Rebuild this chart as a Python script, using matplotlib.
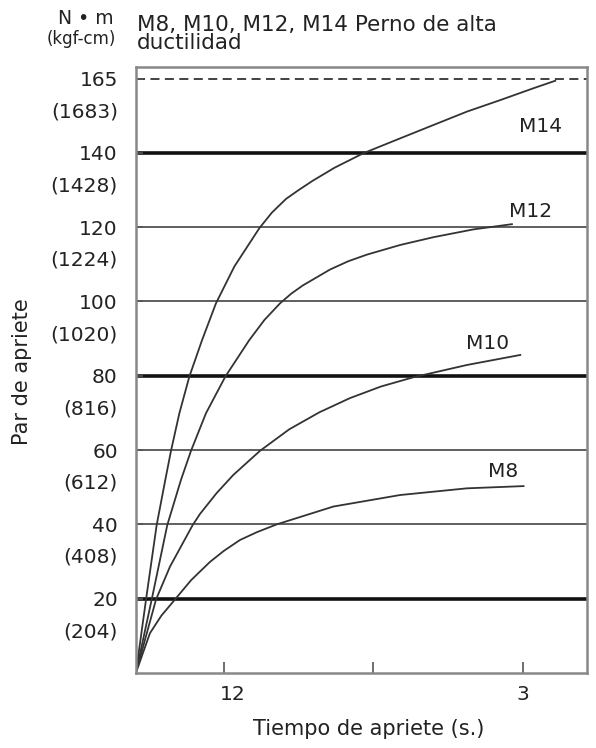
import matplotlib.pyplot as plt
import matplotlib.transforms as mtransforms

# (x: tick 1 = "12", tick 3 = "3"; left edge of the frame ~0.41)
m14_x = [0.41, 0.478, 0.549, 0.607, 0.645, 0.701, 0.768, 0.853, 0.946, 1.069, 1.236,
         1.32, 1.415, 1.5, 1.594, 1.74, 1.933, 2.179, 2.402, 2.626, 2.849, 3.072, 3.217]
m14_y = [0, 19.8, 39.8, 52.0, 59.8, 69.9, 79.8, 89.6, 99.5, 109.4, 119.7,
         123.9, 127.6, 130.0, 132.5, 136.0, 139.9, 143.9, 147.5, 151.1, 154.2, 157.4, 159.4]

m12_x = [0.41, 0.516, 0.62, 0.712, 0.779, 0.879, 1.009, 1.169, 1.27, 1.375, 1.45, 1.527,
         1.71, 1.83, 1.956, 2.179, 2.402, 2.67, 2.927]
m12_y = [0, 19.8, 39.8, 52.0, 59.8, 69.9, 79.8, 89.6, 95.0, 99.5, 102.1, 104.3,
         108.6, 110.8, 112.6, 115.2, 117.3, 119.4, 120.8]

m10_x = [0.41, 0.545, 0.638, 0.79, 0.839, 0.95, 1.062, 1.241, 1.437, 1.64, 1.844,
         2.05, 2.268, 2.626, 2.983]
m10_y = [0, 19.8, 28.6, 39.8, 42.8, 48.4, 53.3, 59.8, 65.6, 70.2, 74.0,
         77.1, 79.6, 82.9, 85.6]

m8_x = [0.41, 0.504, 0.58, 0.672, 0.78, 0.906, 1.0, 1.107, 1.22, 1.353, 1.732, 2.179, 2.626, 3.005]
m8_y = [0, 10.7, 15.4, 19.8, 25.0, 29.9, 32.9, 35.8, 37.9, 40.0, 44.8, 47.9, 49.7, 50.3]

curves = [("M14", m14_x, m14_y), ("M12", m12_x, m12_y),
          ("M10", m10_x, m10_y), ("M8", m8_x, m8_y)]

grid_y = [20, 40, 60, 80, 100, 120, 140]
thick_y = [20, 80, 140]
limit_pos = 160          # dashed line, drawn at this height in the picture
tick_pos = [20, 40, 60, 80, 100, 120, 140, 160]
tick_nm = ["20", "40", "60", "80", "100", "120", "140", "165"]
tick_kgf = ["(204)", "(408)", "(612)", "(816)", "(1020)", "(1224)", "(1428)", "(1683)"]

x_ticks = [1, 2, 3]
x_labels = ["12", "", "3"]

fig = plt.figure(figsize=(5.96, 7.48), dpi=100)
ax = fig.add_axes([0.228, 0.1003, 0.757, 0.8101])

for g in grid_y:
    if g in thick_y:
        ax.axhline(g, color="#111111", lw=2.6, zorder=1)
    else:
        ax.axhline(g, color="#444444", lw=1.2, zorder=1)
ax.axhline(limit_pos, color="#333333", lw=1.3, ls=(0, (5, 3)), zorder=1)

for name, xs, ys in curves:
    ax.plot(xs, ys, color="#333333", lw=1.3, zorder=2, solid_joinstyle="round")

lab_pos = {"M14": (3.12, 147), "M12": (3.05, 124.2), "M10": (2.765, 88.7), "M8": (2.867, 54.2)}
for name, xs, ys in curves:
    ax.text(lab_pos[name][0], lab_pos[name][1], name, fontsize=14.5,
            ha="center", va="center", color="#222222")

ax.set_xlim(0.41, 3.43)
ax.set_ylim(0, 163.1)

ax.set_xticks(x_ticks)
ax.set_xticklabels(x_labels)
ax.set_yticks(tick_pos)
ax.set_yticklabels(tick_nm)
ax.tick_params(axis="x", direction="in", length=8, width=1.2, color="#555555",
               labelsize=14.5, pad=9, labelcolor="#222222")
ax.tick_params(axis="y", direction="in", length=5, width=1.2, color="#555555",
               labelsize=14.5, pad=13, labelcolor="#222222")
# the "12" sits a bit right of its tick
lbl = ax.get_xticklabels()[0]
lbl.set_transform(lbl.get_transform() + mtransforms.ScaledTranslation(0.09, 0, fig.dpi_scale_trans))

trans = ax.get_yaxis_transform()
for p, k in zip(tick_pos, tick_kgf):
    ax.text(-0.04, p - 8.9, k, transform=trans, ha="right", va="center",
            fontsize=14.5, color="#222222")

for s in ax.spines.values():
    s.set_color("#888888")
    s.set_linewidth(1.8)

fig.text(114 / 596, 1 - 19 / 748, "N • m", ha="right", va="center", fontsize=13.5, color="#222222")
fig.text(116 / 596, 1 - 39 / 748, "(kgf-cm)", ha="right", va="center", fontsize=12, color="#222222")
fig.text(137 / 596, 1 - 34 / 748, "M8, M10, M12, M14 Perno de alta\nductilidad",
         ha="left", va="center", fontsize=15.5, linespacing=0.85, color="#222222")
fig.text(369 / 596, 1 - 729 / 748, "Tiempo de apriete (s.)", ha="center", va="center",
         fontsize=15, color="#222222")
fig.text(22 / 596, 1 - 372 / 748, "Par de apriete", ha="center", va="center",
         rotation=90, fontsize=15, color="#222222")

fig.savefig("out.png", dpi=100)
